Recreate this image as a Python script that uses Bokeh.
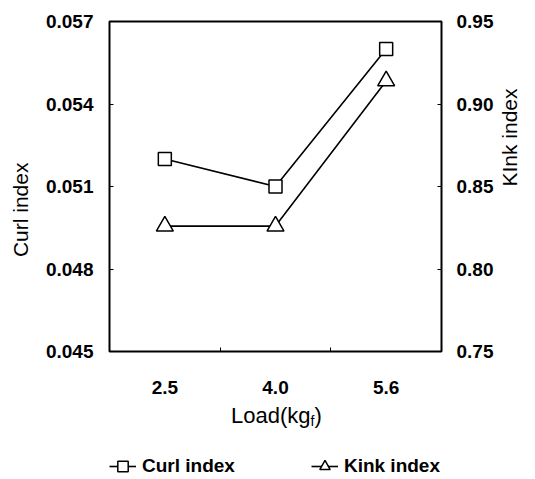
import math
from bokeh.plotting import figure
from bokeh.models import (Range1d, LinearAxis, FixedTicker, NumeralTickFormatter,
                          Legend, LegendItem, Label)
from bokeh.layouts import column
from bokeh.embed import file_html
from bokeh.resources import INLINE

# ---- data ----
loads = ["2.5", "4.0", "5.6"]
curl_index = [0.0520, 0.0510, 0.0560]
kink_index = [0.826, 0.826, 0.914]
curl_ticks = [0.045, 0.048, 0.051, 0.054, 0.057]
kink_ticks = [0.75, 0.80, 0.85, 0.90, 0.95]

xs = list(range(len(loads)))
FONT = "Liberation Sans"
NB = "\u00a0"

# ---------------- main chart ----------------
p = figure(width=535, height=404, output_backend="svg", toolbar_location=None,
           x_range=Range1d(-0.5, len(loads) - 0.5),
           y_range=Range1d(curl_ticks[0], curl_ticks[-1]),
           min_border_left=109, min_border_right=93, min_border_top=21, min_border_bottom=53)
p.extra_y_ranges = {"kink": Range1d(kink_ticks[0], kink_ticks[-1])}

p.background_fill_color = "white"
p.border_fill_color = "white"
p.outline_line_color = "black"
p.outline_line_width = 2
p.xgrid.visible = False
p.ygrid.visible = False

# x axis
xa = p.xaxis[0]
xa.ticker = FixedTicker(ticks=xs, minor_ticks=[i + 0.5 for i in xs[:-1]])
xa.major_label_overrides = {i: s for i, s in enumerate(loads)}
xa.axis_line_color = None
xa.major_tick_in = 0
xa.major_tick_out = 0
xa.minor_tick_in = 4
xa.minor_tick_out = 0
xa.minor_tick_line_color = "black"
xa.major_label_standoff = 29
xa.major_label_text_font = FONT
xa.major_label_text_font_style = "bold"
xa.major_label_text_font_size = "19px"
xa.major_label_text_color = "black"

# left axis
ya = p.yaxis[0]
ya.ticker = FixedTicker(ticks=curl_ticks)
ya.formatter = NumeralTickFormatter(format="0.000")
ya.axis_line_color = None
ya.major_tick_in = 4
ya.major_tick_out = 0
ya.minor_tick_line_color = None
ya.major_tick_line_color = "black"
ya.major_label_standoff = 16
ya.major_label_text_font = FONT
ya.major_label_text_font_style = "bold"
ya.major_label_text_font_size = "19px"
ya.major_label_text_color = "black"
ya.axis_label = "Curl index" + NB * 8
ya.axis_label_standoff = 11
ya.axis_label_text_font = FONT
ya.axis_label_text_font_style = "normal"
ya.axis_label_text_font_size = "21px"
ya.axis_label_text_color = "black"

# right axis
ra = LinearAxis(y_range_name="kink", ticker=FixedTicker(ticks=kink_ticks),
                formatter=NumeralTickFormatter(format="0.00"))
ra.axis_line_color = None
ra.major_tick_in = 4
ra.major_tick_out = 0
ra.minor_tick_line_color = None
ra.major_label_standoff = 15
ra.major_label_text_font = FONT
ra.major_label_text_font_style = "bold"
ra.major_label_text_font_size = "19px"
ra.major_label_text_color = "black"
ra.axis_label = "KInk index"
try:
    ra.axis_label_orientation = math.pi / 2
except Exception:
    pass
ra.axis_label_standoff = 13
ra.axis_label_text_font = FONT
ra.axis_label_text_font_style = "normal"
ra.axis_label_text_font_size = "21px"
ra.axis_label_text_color = "black"
p.add_layout(ra, "right")

# series
line_kw = dict(line_color="black", line_width=1.6)
mark_kw = dict(fill_color="white", line_color="black", line_width=1.5)
p.line(xs, curl_index, **line_kw)
p.scatter(xs, curl_index, marker="square", size=13, **mark_kw)
p.line(xs, kink_index, y_range_name="kink", **line_kw)
p.scatter(xs, kink_index, marker="triangle", size=17, y_range_name="kink", **mark_kw)

# ---------------- axis title + legend strip ----------------
# ranges chosen so the legend proxy renderers stay out of view
q = figure(width=535, height=75, output_backend="svg", toolbar_location=None,
           x_axis_location=None, y_axis_location=None,
           min_border_left=109, min_border_right=93, min_border_top=0, min_border_bottom=0,
           x_range=Range1d(len(loads) + 1, len(loads) + 2), y_range=Range1d(0, 1))
q.outline_line_color = None
q.grid.visible = False
q.background_fill_color = "white"
q.border_fill_color = "white"

lab_kw = dict(text_font=FONT, text_color="black", text_baseline="alphabetic",
              x_units="screen", y_units="screen")
q.add_layout(Label(x=201, y=64, text="Load(kg", text_align="right",
                   text_font_size="22px", **lab_kw))
q.add_layout(Label(x=201, y=59, text="f", text_align="left",
                   text_font_size="14px", **lab_kw))
q.add_layout(Label(x=205, y=64, text=")", text_align="left",
                   text_font_size="22px", **lab_kw))

# legend proxies: same styles as the series
lc = q.line(xs, curl_index, **line_kw)
sc = q.scatter(xs, curl_index, marker="square", **mark_kw)
lk = q.line(xs, kink_index, **line_kw)
tk = q.scatter(xs, kink_index, marker="triangle", **mark_kw)
legend = Legend(items=[LegendItem(label="Curl index", renderers=[lc, sc]),
                       LegendItem(label="Kink index", renderers=[lk, tk])],
                location=(0, 0), orientation="horizontal",
                glyph_width=27, glyph_height=26, label_standoff=6, spacing=76,
                padding=0, margin=0, border_line_color=None, background_fill_alpha=0,
                label_text_font=FONT, label_text_font_style="bold",
                label_text_font_size="19px", label_text_color="black")
q.add_layout(legend, "center")

layout = column(p, q, spacing=0)
open("out.html", "w").write(file_html(layout, INLINE))
